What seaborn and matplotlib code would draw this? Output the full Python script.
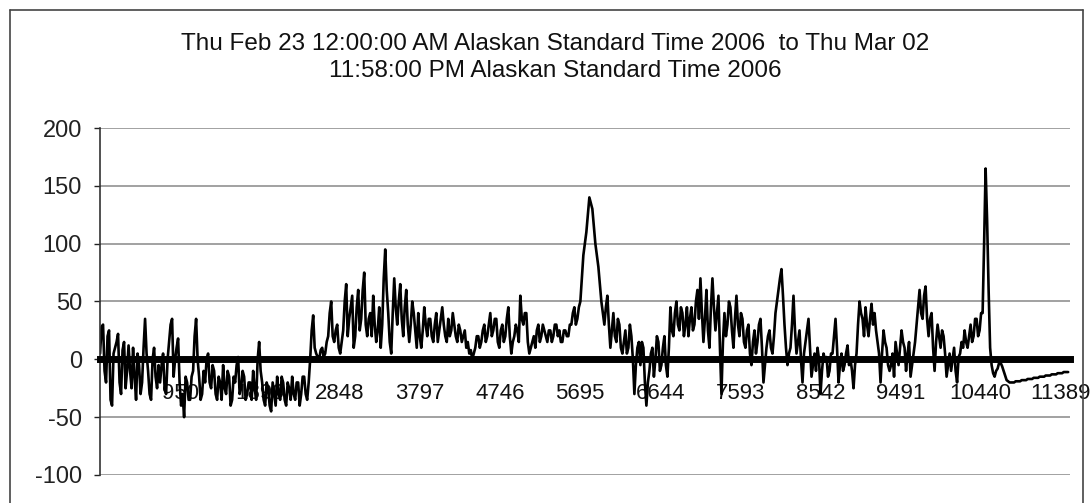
import numpy as np
import pandas as pd
import matplotlib
matplotlib.use('Agg')
import matplotlib.pyplot as plt
import seaborn as sns
from matplotlib.lines import Line2D

title_1 = "Thu Feb 23 12:00:00 AM Alaskan Standard Time 2006  to Thu Mar 02"
title_2 = "11:58:00 PM Alaskan Standard Time 2006"

# readings, one sample every ~18 points of the original series
values = [
    5, 28, 30, -10, -20, 20, 25, -35, -40, 5, 10, 15, 22, -20, -30, 8, 15, -25, -10, 12,
    -10, -25, 10, -15, -35, 5, -5, -30, -20, 10, 35, 5, -10, -30, -35, 0, 10, -15, -25, -5,
    -20, -5, 5, -25, -30, 0, 15, 30, 35, -15, 0, 10, 18, -20, -40, -30, -50, -15, -20, -35,
    -35, -15, -10, 20, 35, 0, -15, -35, -30, -10, -20, 0, 5, -20, -25, -5, -10, -30, -35, -15,
    -20, -35, -5, -25, -30, -10, -15, -40, -35, -15, -20, -5, 2, -30, -25, -10, -15, -35, -30, -20,
    -20, -35, -10, -25, -35, 0, 15, -10, -20, -35, -40, -20, -25, -40, -45, -20, -30, -40, -15, -30,
    -35, -15, -20, -35, -40, -20, -25, -35, -15, -30, -35, -20, -20, -40, -30, -15, -15, -30, -35, -20,
    0, 25, 38, 10, 5, 2, 0, 8, 10, 2, 5, 15, 20, 40, 50, 20, 15, 25, 30, 10,
    5, 15, 25, 50, 65, 20, 35, 45, 55, 10, 20, 45, 60, 25, 35, 60, 75, 30, 20, 35,
    40, 20, 55, 30, 15, 25, 45, 10, 30, 70, 95, 60, 40, 15, 5, 40, 70, 45, 30, 50,
    65, 35, 20, 45, 60, 30, 15, 30, 50, 40, 25, 10, 40, 20, 10, 25, 45, 30, 20, 35,
    35, 20, 15, 30, 40, 15, 25, 35, 45, 30, 20, 15, 35, 20, 25, 40, 30, 20, 15, 30,
    25, 15, 20, 25, 10, 15, 5, 8, 0, 5, 10, 20, 20, 10, 15, 25, 30, 15, 20, 30,
    40, 20, 25, 35, 35, 15, 10, 25, 30, 15, 20, 35, 45, 20, 5, 15, 20, 30, 25, 15,
    55, 35, 30, 40, 40, 15, 5, 10, 15, 20, 10, 25, 30, 15, 20, 30, 25, 20, 15, 25,
    25, 15, 20, 30, 30, 20, 25, 15, 15, 25, 25, 20, 20, 30, 30, 40, 45, 30, 35, 45,
    50, 70, 90, 100, 110, 125, 140, 135, 130, 115, 100, 90, 80, 65, 50, 40, 30, 45, 55, 30,
    10, 25, 40, 20, 15, 35, 30, 10, 5, 15, 25, 5, 10, 30, 20, 0, -30, -5, 10, 15,
    -5, 15, 10, -20, -40, -20, -10, 5, 10, -15, 0, 20, 15, -10, -5, 10, 20, -5, -15, 10,
    45, 25, 20, 40, 50, 30, 25, 45, 40, 20, 30, 45, 20, 35, 45, 25, 30, 50, 60, 35,
    70, 40, 15, 35, 60, 25, 10, 45, 70, 45, 25, 40, 55, 10, -30, 15, 40, 20, 30, 50,
    45, 25, 10, 35, 55, 30, 20, 40, 35, 15, 10, 25, 30, 5, -5, 15, 25, 5, 15, 30,
    35, 10, -20, -5, 10, 20, 25, 10, 5, 20, 40, 50, 60, 70, 78, 55, 30, 10, -5, 5,
    10, 30, 55, 25, 5, 15, 25, 0, -20, 5, 15, 25, 35, 10, -15, -5, 5, -10, 10, 0,
    -30, -10, 5, 0, 2, -15, -10, 5, 5, 20, 35, 10, -20, -5, 5, -10, -5, 5, 12, -5,
    0, -10, -25, -5, 5, 30, 50, 40, 35, 20, 45, 30, 20, 35, 48, 30, 40, 25, 15, 5,
    -20, 5, 25, 15, 10, -5, -10, -5, 5, -15, 15, 5, -5, 10, 25, 15, 10, -10, 5, 15,
    -15, -5, 5, 15, 30, 45, 60, 40, 35, 55, 63, 35, 20, 35, 40, 10, -10, 15, 30, 20,
    10, 25, 20, 5, -15, -5, 5, -10, 0, 10, -10, -20, 2, 5, 15, 10, 25, 15, 10, 20,
    30, 15, 20, 35, 35, 20, 25, 40, 40, 100, 165, 120, 60, 10, -5, -12, -15, -10, -8, -3,
    -3, -6, -10, -14, -18, -19, -20, -20, -20, -20, -19, -19, -19, -19, -18, -18, -18, -18, -17, -17,
    -17, -17, -16, -16, -16, -16, -15, -15, -15, -15, -14, -14, -14, -14, -13, -13, -13, -13, -12, -12,
    -12, -12, -11, -11, -11, -11,
]
step = 17.8
tick_labels = ["950", "1899", "2848", "3797", "4746", "5695",
               "6644", "7593", "8542", "9491", "10440", "11389"]

df = pd.DataFrame({"point": 1 + step * np.arange(len(values)), "value": values})

sns.set_style("white")
plt.rcParams['font.family'] = ['Liberation Sans', 'DejaVu Sans']
plt.rcParams['axes.unicode_minus'] = False

fig = plt.figure(figsize=(10.91, 5.03), dpi=100)
ax = fig.add_axes([0.0917, 0.0557, 0.8893, 0.6898])

sns.lineplot(data=df, x="point", y="value", color="black", linewidth=1.9, ax=ax)

ax.set_xlim(1, 11507)
ax.set_ylim(-100, 200)
ax.set_yticks([-100, -50, 0, 50, 100, 150, 200])
ax.set_xticks([int(t) for t in tick_labels])
ax.set_xticklabels(tick_labels)
ax.set_xlabel("")
ax.set_ylabel("")

for y in [-100, -50, 50, 100, 150, 200]:
    ax.axhline(y, color="#9a9a9a", linewidth=1.3, zorder=0)

ax.spines['top'].set_visible(False)
ax.spines['right'].set_visible(False)
ax.spines['bottom'].set_position(('data', 0))
ax.spines['bottom'].set_linewidth(5)
ax.spines['bottom'].set_color("black")
ax.spines['left'].set_linewidth(1.2)
ax.spines['left'].set_color("#333333")

ax.tick_params(axis='x', length=0, pad=17, labelsize=16, colors="#111111")
ax.tick_params(axis='y', length=4, width=1, direction='out', pad=9,
               labelsize=17, colors="#222222", left=True)

fig.text(0.509, 0.913, title_1, ha='center', va='center', fontsize=17.5, color="#111111")
fig.text(0.509, 0.858, title_2, ha='center', va='center', fontsize=17.5, color="#111111")

# chart frame
fig.add_artist(Line2D([10 / 1091, 1083 / 1091], [1 - 10 / 503, 1 - 10 / 503],
                      transform=fig.transFigure, color="#444444", linewidth=1.2))
fig.add_artist(Line2D([10 / 1091, 10 / 1091], [0, 1 - 10 / 503],
                      transform=fig.transFigure, color="#444444", linewidth=1.2))
fig.add_artist(Line2D([1083 / 1091, 1083 / 1091], [0, 1 - 10 / 503],
                      transform=fig.transFigure, color="#444444", linewidth=1.2))

fig.savefig("out.png", dpi=100)
